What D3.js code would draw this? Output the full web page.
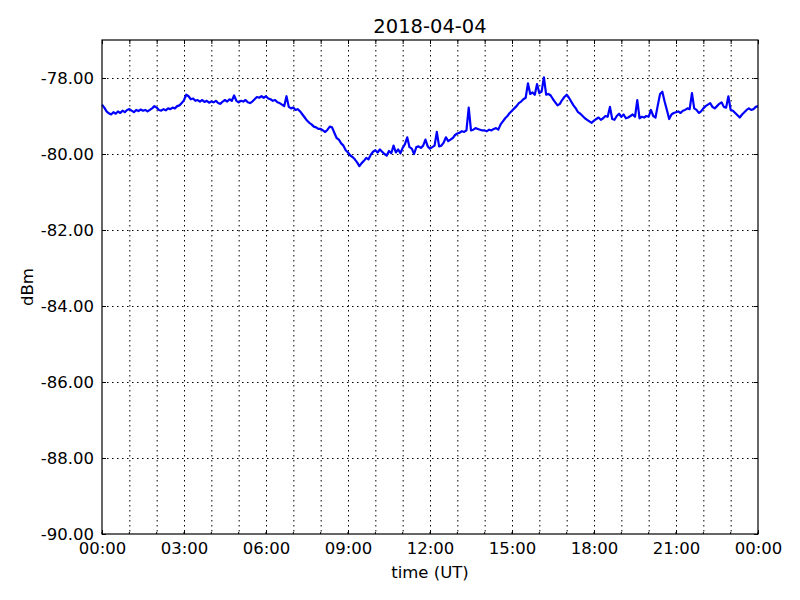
<!DOCTYPE html>
<html><head><meta charset="utf-8">
<script src="https://cdn.jsdelivr.net/npm/d3@7"></script>
<style>body{margin:0;background:#fff}svg{display:block}text{font-family:"DejaVu Sans",sans-serif}</style>
</head><body>
<svg id="c" width="800" height="600"></svg>
<script>
// signal level every 5 minutes (hour-by-hour rows), dBm
const title = "2018-04-04";
const stepMinutes = 5;
const values = [
-78.70,-78.78,-78.88,-78.93,-78.96,-78.90,-78.94,-78.88,-78.92,-78.86,-78.90,-78.84,
-78.82,-78.86,-78.90,-78.84,-78.87,-78.83,-78.86,-78.84,-78.88,-78.84,-78.80,-78.74,
-78.78,-78.84,-78.86,-78.82,-78.85,-78.80,-78.82,-78.78,-78.80,-78.74,-78.72,-78.66,
-78.58,-78.44,-78.48,-78.56,-78.54,-78.60,-78.58,-78.62,-78.58,-78.63,-78.60,-78.65,
-78.62,-78.64,-78.60,-78.66,-78.68,-78.62,-78.58,-78.62,-78.56,-78.60,-78.46,-78.60,
-78.64,-78.60,-78.62,-78.58,-78.64,-78.66,-78.62,-78.56,-78.50,-78.52,-78.48,-78.52,
-78.48,-78.54,-78.56,-78.60,-78.58,-78.64,-78.66,-78.70,-78.74,-78.48,-78.76,-78.80,
-78.78,-78.84,-78.82,-78.88,-78.96,-79.04,-79.12,-79.18,-79.22,-79.28,-79.30,-79.34,
-79.34,-79.38,-79.42,-79.36,-79.28,-79.30,-79.44,-79.58,-79.62,-79.72,-79.78,-79.90,
-79.96,-80.04,-80.08,-80.14,-80.22,-80.32,-80.24,-80.18,-80.10,-80.14,-80.02,-79.94,
-79.90,-79.96,-79.88,-79.94,-80.00,-80.04,-79.92,-79.98,-79.78,-79.96,-79.88,-79.98,
-79.84,-79.74,-79.56,-79.82,-79.86,-80.00,-79.82,-79.80,-79.84,-79.78,-79.62,-79.80,
-79.86,-79.82,-79.78,-79.42,-79.80,-79.78,-79.70,-79.56,-79.66,-79.62,-79.58,-79.50,
-79.46,-79.44,-79.40,-79.42,-79.38,-78.78,-79.38,-79.36,-79.32,-79.34,-79.36,-79.38,
-79.38,-79.40,-79.36,-79.38,-79.34,-79.32,-79.36,-79.22,-79.14,-79.06,-79.00,-78.92,
-78.86,-78.80,-78.74,-78.66,-78.62,-78.56,-78.52,-78.14,-78.42,-78.38,-78.44,-78.16,
-78.40,-78.36,-77.98,-78.44,-78.42,-78.46,-78.56,-78.64,-78.72,-78.68,-78.58,-78.50,
-78.44,-78.52,-78.62,-78.72,-78.80,-78.90,-78.94,-79.00,-79.06,-79.10,-79.14,-79.18,
-79.12,-79.08,-79.04,-79.10,-79.06,-79.00,-79.02,-78.76,-79.08,-79.10,-79.00,-78.94,
-79.02,-78.96,-79.06,-79.04,-79.00,-78.96,-79.02,-78.58,-79.06,-79.02,-79.04,-79.00,
-79.02,-78.84,-79.00,-79.04,-78.72,-78.42,-78.36,-78.62,-78.84,-79.08,-78.96,-78.92,
-78.90,-78.88,-78.92,-78.86,-78.84,-78.80,-78.82,-78.40,-78.80,-78.84,-78.92,-78.88,
-78.80,-78.74,-78.70,-78.66,-78.76,-78.80,-78.74,-78.68,-78.64,-78.76,-78.78,-78.48,
-78.84,-78.86,-78.92,-78.98,-79.04,-78.96,-78.90,-78.84,-78.80,-78.84,-78.82,-78.76,
-78.74
];
const xTickHours = [0,3,6,9,12,15,18,21,24];
const xTickLabels = ["00:00","03:00","06:00","09:00","12:00","15:00","18:00","21:00","00:00"];
const yTicks = [-90,-88,-86,-84,-82,-80,-78];

const svg = d3.select("#c");
const m = {l:102, r:758, t:40, b:534};
const x = d3.scaleLinear().domain([0,24]).range([m.l, m.r]);
const y = d3.scaleLinear().domain([-90,-77]).range([m.b, m.t]);

// grid
const hours = d3.range(0,25);
svg.append("g").selectAll("line").data(hours.slice(1,-1)).join("line")
  .attr("x1",d=>x(d)+0.5).attr("x2",d=>x(d)+0.5).attr("y1",m.t).attr("y2",m.b)
  .attr("stroke","#000").attr("stroke-width",1).attr("stroke-dasharray","1.5,3.5");
svg.append("g").selectAll("line").data(yTicks.slice(1)).join("line")
  .attr("x1",m.l).attr("x2",m.r).attr("y1",d=>y(d)+0.5).attr("y2",d=>y(d)+0.5)
  .attr("stroke","#000").attr("stroke-width",1).attr("stroke-dasharray","1.5,3.5");

// data line
const pts = values.map((v,i)=>({h:i*stepMinutes/60, v}));
const line = d3.line().x(d=>x(d.h)).y(d=>y(d.v));
svg.append("path").datum(pts).attr("d",line).attr("fill","none")
  .attr("stroke","#0000ff").attr("stroke-width",2.2).attr("stroke-linejoin","round");

// axes (inside ticks, mirrored)
const fs = 16.5;
const style = g => { g.select(".domain").remove();
  g.selectAll("text").attr("font-size",fs).attr("fill","#000").attr("font-family","DejaVu Sans, sans-serif"); };
const axBottom = d3.axisBottom(x).tickValues(xTickHours).tickSize(-4).tickPadding(8)
  .tickFormat((d,i)=>xTickLabels[i]);
svg.append("g").attr("transform",`translate(0,${m.b})`).call(axBottom).call(style);
const axTop = d3.axisTop(x).tickValues(hours).tickSize(-4).tickFormat("");
svg.append("g").attr("transform",`translate(0,${m.t})`).call(axTop).call(style);
const axLeft = d3.axisLeft(y).tickValues(yTicks).tickSize(-4).tickPadding(8)
  .tickFormat(d=>d.toFixed(2));
svg.append("g").attr("transform",`translate(${m.l},0)`).call(axLeft).call(style);
const axRight = d3.axisRight(y).tickValues(yTicks).tickSize(-4).tickFormat("");
svg.append("g").attr("transform",`translate(${m.r},0)`).call(axRight).call(style);
svg.append("g").selectAll("line").data(hours).join("line")
  .attr("x1",d=>x(d)).attr("x2",d=>x(d)).attr("y1",m.b).attr("y2",m.b-2)
  .attr("stroke","#000");

svg.append("rect").attr("x",m.l).attr("y",m.t).attr("width",m.r-m.l).attr("height",m.b-m.t)
  .attr("fill","none").attr("stroke","#000").attr("stroke-width",1.2);

svg.append("text").attr("x",(m.l+m.r)/2).attr("y",33).attr("text-anchor","middle")
  .attr("font-size",19.5).text(title);
svg.append("text").attr("x",(m.l+m.r)/2).attr("y",578).attr("text-anchor","middle")
  .attr("font-size",16.5).text("time (UT)");
svg.append("text").attr("transform","translate(33,287) rotate(-90)").attr("text-anchor","middle")
  .attr("font-size",16.5).text("dBm");
</script>
</body></html>
